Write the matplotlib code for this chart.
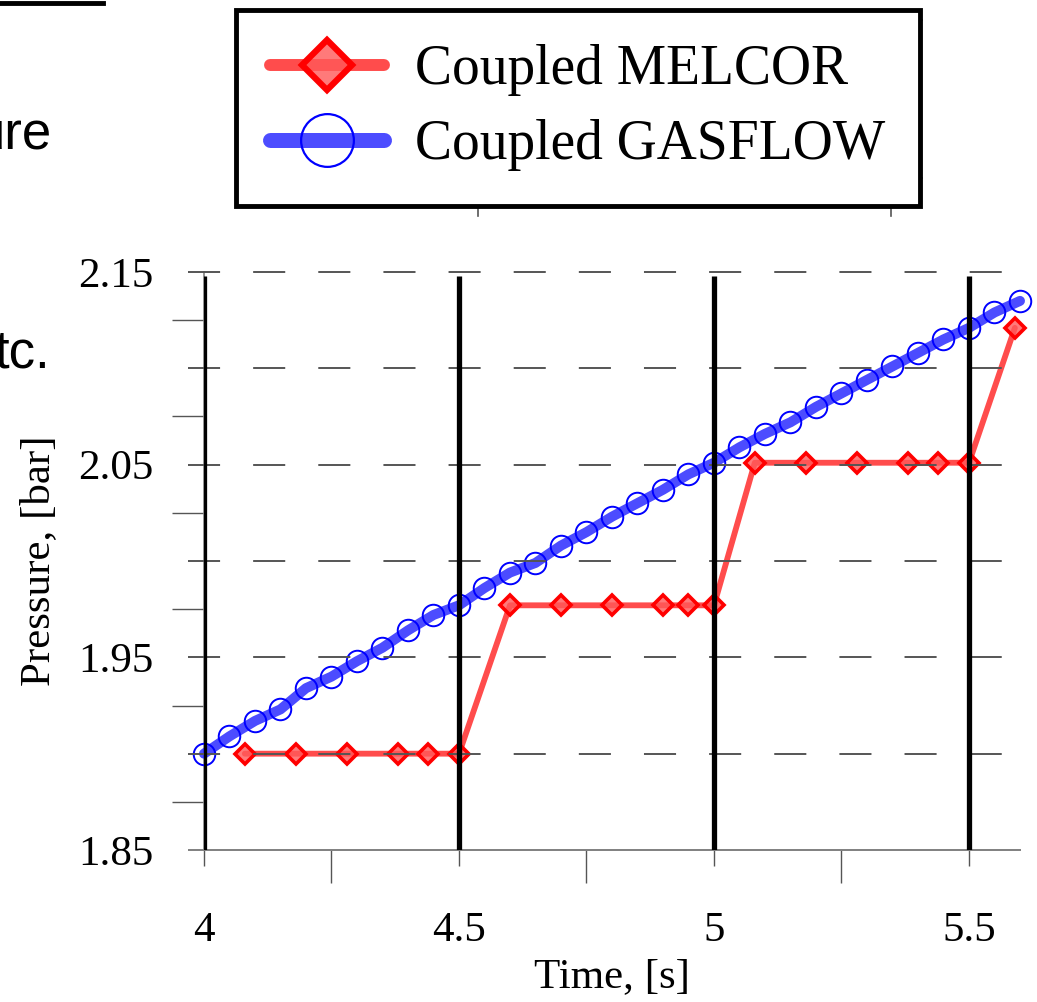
import matplotlib
matplotlib.use("Agg")
import matplotlib.pyplot as plt
from matplotlib.lines import Line2D
from matplotlib.legend_handler import HandlerTuple

# data
gasflow_time = [4.00, 4.05, 4.10, 4.15, 4.20, 4.25, 4.30, 4.35, 4.40, 4.45, 4.50,
                4.55, 4.60, 4.65, 4.70, 4.75, 4.80, 4.85, 4.90, 4.95, 5.00,
                5.05, 5.10, 5.15, 5.20, 5.25, 5.30, 5.35, 5.40, 5.45, 5.50,
                5.55, 5.60]
gasflow_pressure = [1.900, 1.909, 1.917, 1.923, 1.934, 1.940, 1.948, 1.955, 1.964, 1.972, 1.977,
                    1.986, 1.994, 1.999, 2.008, 2.015, 2.023, 2.030, 2.037, 2.045, 2.051,
                    2.059, 2.066, 2.072, 2.080, 2.087, 2.094, 2.101, 2.108, 2.115, 2.121,
                    2.129, 2.135]
melcor_time = [4.08, 4.18, 4.28, 4.38, 4.44, 4.50,
               4.60, 4.70, 4.80, 4.90, 4.95, 5.00,
               5.08, 5.18, 5.28, 5.38, 5.44, 5.50, 5.59]
melcor_pressure = [1.900, 1.900, 1.900, 1.900, 1.900, 1.900,
                   1.977, 1.977, 1.977, 1.977, 1.977, 1.977,
                   2.051, 2.051, 2.051, 2.051, 2.051, 2.051, 2.121]
coupling_times = [4.0, 4.5, 5.0, 5.5]
series_names = ["Coupled MELCOR", "Coupled GASFLOW"]

x_ticks = [4, 4.5, 5, 5.5]
x_labels = ["4", "4.5", "5", "5.5"]
x_minor = [4.25, 4.75, 5.25]
y_ticks = [1.85, 1.95, 2.05, 2.15]
y_labels = ["1.85", "1.95", "2.05", "2.15"]
y_minor = [1.875, 1.925, 1.975, 2.025, 2.075, 2.125]
y_grid = [1.90, 1.95, 2.00, 2.05, 2.10, 2.15]

W, H = 1037, 1002
SERIF = ["Liberation Serif", "DejaVu Serif"]
SANS = ["Liberation Sans", "DejaVu Sans"]
plt.rcParams["font.family"] = SERIF

fig = plt.figure(figsize=(W / 100, H / 100), dpi=100)
ax = fig.add_axes([204 / W, 1 - 850 / H, 817 / W, 578 / H])
ax.set_xlim(4, 5.602)
ax.set_ylim(1.85, 2.15)

# dashed horizontal grid, reaching a little left of the axis
ax.hlines(y_grid, -16 / 817, 1.0, transform=ax.get_yaxis_transform(),
          colors="#555555", linewidth=1.4, linestyles=(0, (16.5, 17)),
          clip_on=False, zorder=5)
# bottom axis line
ax.hlines([1.85], -16 / 817, 1.0, transform=ax.get_yaxis_transform(),
          colors="#808080", linewidth=1.4, clip_on=False, zorder=5)

for s in ["top", "right", "bottom"]:
    ax.spines[s].set_visible(False)
ax.spines["left"].set_color("#808080")
ax.spines["left"].set_linewidth(1.2)

# coupling instants
ax.vlines(coupling_times, 1.85, 2.148, colors="black", linewidth=3.8, zorder=6)

# series
ax.plot(gasflow_time, gasflow_pressure, color="blue", alpha=0.7, linewidth=7.2,
        solid_capstyle="round", zorder=3, clip_on=False)
ax.plot(gasflow_time, gasflow_pressure, linestyle="none", marker="o", markersize=15.5,
        markerfacecolor="none", markeredgecolor="blue", markeredgewidth=1.4,
        zorder=4, clip_on=False)
ax.plot(melcor_time, melcor_pressure, color="red", alpha=0.7, linewidth=4.2,
        solid_capstyle="round", zorder=3, clip_on=False)
ax.plot(melcor_time, melcor_pressure, linestyle="none", marker="D", markersize=10.5,
        markerfacecolor=(1, 0.35, 0.35, 0.8), markeredgecolor="red",
        markeredgewidth=2.6, zorder=4, clip_on=False)

# ticks
ax.set_xticks(x_ticks)
ax.set_xticklabels(x_labels)
ax.set_xticks(x_minor, minor=True)
ax.tick_params(axis="x", which="major", direction="out", length=11.5, width=1,
               color="#555555", pad=33, labelsize=31)
ax.tick_params(axis="x", which="minor", direction="out", length=24, width=1,
               color="#555555")
ax.set_yticks(y_ticks)
ax.set_yticklabels(y_labels)
ax.set_yticks(y_minor, minor=True)
ax.tick_params(axis="y", which="major", length=0, pad=36.5, labelsize=31)
ax.tick_params(axis="y", which="minor", direction="out", length=23, width=1,
               color="#555555")

ax.set_xlabel("Time, [s]", fontsize=31)
ax.xaxis.set_label_coords(0.5, -0.186)
ax.set_ylabel("Pressure, [bar]", fontsize=31)
ax.yaxis.set_label_coords(-0.178, 0.5)

# legend with big handles
red_line = Line2D([], [], color="red", alpha=0.7, linewidth=8.6, solid_capstyle="round")
red_mark = Line2D([], [], linestyle="none", marker="D", markersize=25,
                  markerfacecolor=(1, 0.35, 0.35, 0.8), markeredgecolor="red",
                  markeredgewidth=4.5)
blue_line = Line2D([], [], color="blue", alpha=0.7, linewidth=10.8, solid_capstyle="round")
blue_mark = Line2D([], [], linestyle="none", marker="o", markersize=38,
                   markerfacecolor="none", markeredgecolor="blue", markeredgewidth=1.6)
leg = fig.legend([(red_line, red_mark), (blue_line, blue_mark)], series_names,
                 handler_map={tuple: HandlerTuple(ndivide=1)},
                 loc="upper left", bbox_to_anchor=(236 / W, 1 - 10 / H),
                 bbox_transform=fig.transFigure, borderaxespad=0,
                 fontsize=40, fancybox=False, framealpha=1, edgecolor="black",
                 borderpad=0.62, labelspacing=0.41, handlelength=2.05,
                 handletextpad=0.55)
leg.get_frame().set_linewidth(3.5)

# small leftovers of the slide around the chart
for (x0, x1, y0, y1) in [(478, 478, 208, 216), (891, 891, 208, 216),
                         (916, 922, 20, 20), (916, 922, 178, 178)]:
    fig.add_artist(Line2D([x0 / W, x1 / W], [1 - y0 / H, 1 - y1 / H],
                          transform=fig.transFigure, color="#555555", linewidth=1.2))
fig.add_artist(Line2D([0, 103 / W], [1 - 3 / H, 1 - 3 / H], transform=fig.transFigure,
                      color="black", linewidth=3.5))
fig.text(52 / W, 1 - 150 / H, "ure", family=SANS, fontsize=38, ha="right", va="baseline")
fig.text(50 / W, 1 - 367 / H, "tc.", family=SANS, fontsize=38, ha="right", va="baseline")

fig.savefig("out.png", dpi=100)
